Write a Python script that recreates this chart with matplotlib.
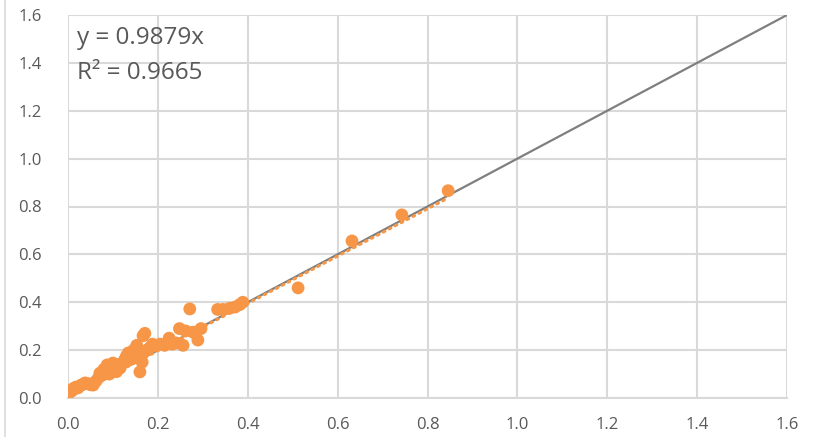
import numpy as np
import matplotlib
matplotlib.use('Agg')
import matplotlib.pyplot as plt
from matplotlib.lines import Line2D

# --- Data ---
x_vals = [0.000, 0.003, 0.008, 0.012, 0.018, 0.022, 0.030, 0.038, 0.045, 0.050,
          0.056, 0.062, 0.068, 0.071, 0.076, 0.080, 0.085, 0.087, 0.092, 0.096,
          0.100, 0.104, 0.108, 0.112, 0.116, 0.122, 0.126, 0.130, 0.134, 0.138,
          0.142, 0.146, 0.150, 0.153, 0.158, 0.160, 0.165, 0.167, 0.171, 0.176,
          0.182, 0.188, 0.195, 0.205, 0.215, 0.225, 0.232, 0.240, 0.248, 0.256,
          0.262, 0.271, 0.278, 0.289, 0.296, 0.333, 0.345, 0.360, 0.372, 0.382,
          0.389, 0.512, 0.632, 0.743, 0.846]
y_vals = [0.025, 0.022, 0.030, 0.040, 0.046, 0.042, 0.055, 0.063, 0.060, 0.055,
          0.054, 0.070, 0.085, 0.104, 0.095, 0.120, 0.110, 0.138, 0.100, 0.125,
          0.146, 0.130, 0.110, 0.140, 0.125, 0.146, 0.160, 0.175, 0.188, 0.160,
          0.175, 0.200, 0.170, 0.220, 0.185, 0.109, 0.150, 0.260, 0.270, 0.200,
          0.210, 0.225, 0.220, 0.225, 0.220, 0.250, 0.225, 0.230, 0.290, 0.220,
          0.280, 0.372, 0.275, 0.242, 0.290, 0.370, 0.370, 0.375, 0.380, 0.390,
          0.400, 0.460, 0.656, 0.765, 0.866]
slope = 0.9879
r2 = 0.9665
ref_line = [0.0, 1.6]
ticks = [0.0, 0.2, 0.4, 0.6, 0.8, 1.0, 1.2, 1.4, 1.6]

orange = '#F79646'
grey = '#7F7F7F'
grid_c = '#D9D9D9'
txt_c = '#595959'

plt.rcParams['font.family'] = ['Open Sans', 'DejaVu Sans']

fig = plt.figure(figsize=(8.13, 4.37), dpi=100)
ax = fig.add_axes([68 / 813, 1 - 398 / 437, (787 - 68) / 813, (398 - 15) / 437])

# 1:1 reference line
ax.plot(ref_line, ref_line, color=grey, lw=1.6, zorder=2)

# data points
ax.scatter(x_vals, y_vals, s=85, color=orange, edgecolors='none', zorder=3)

# linear trendline through origin
tx = np.array([0.0, max(x_vals)])
ax.plot(tx, slope * tx, color=orange, lw=2.2, linestyle=(0, (0.6, 1.6)),
        dash_capstyle='round', zorder=4)

ax.set_xlim(0, 1.6)
ax.set_ylim(0, 1.6)
ax.set_xticks(ticks)
ax.set_yticks(ticks)
ax.set_xticklabels([f'{t:.1f}' for t in ticks])
ax.set_yticklabels([f'{t:.1f}' for t in ticks])
ax.grid(True, color=grid_c, lw=1.5)
ax.set_axisbelow(True)
for s in ['top', 'right', 'left']:
    ax.spines[s].set_visible(False)
ax.spines['bottom'].set_color(grid_c)
ax.spines['bottom'].set_linewidth(1.5)
ax.tick_params(length=0, colors=txt_c, labelsize=12)
ax.tick_params(axis='x', pad=14)
ax.tick_params(axis='y', pad=19)

ax.text(0.013, 0.94, f'y = {slope}x', transform=ax.transAxes,
        fontsize=17.5, color=txt_c, va='center', ha='left')
ax.text(0.013, 0.848, f'R² = {r2}', transform=ax.transAxes,
        fontsize=17.5, color=txt_c, va='center', ha='left')

# chart frame edge on the left
fig.add_artist(Line2D([5 / 813, 5 / 813], [0, 1], color=grid_c, lw=1.2,
                      transform=fig.transFigure))

fig.savefig('out.png', dpi=100)
